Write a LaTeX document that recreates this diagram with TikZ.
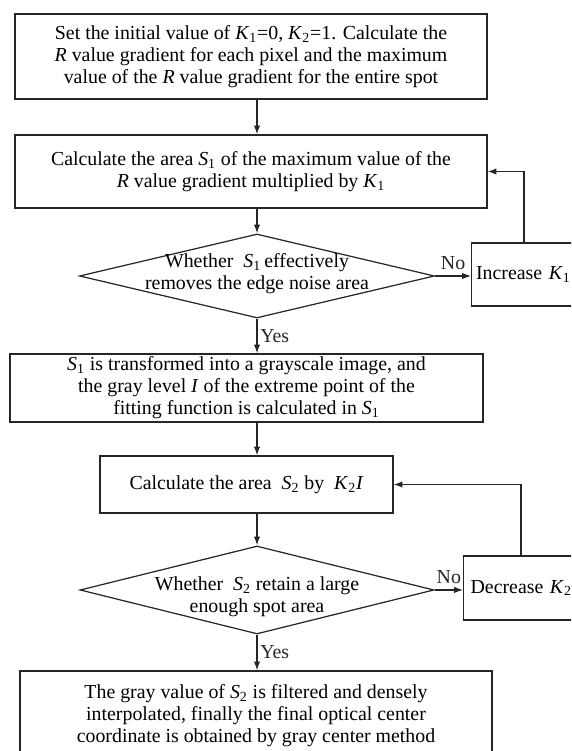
\documentclass[tikz,border=0pt]{standalone}
\usepackage{fontspec}
\setmainfont{Liberation Serif}
\usetikzlibrary{arrows.meta,calc,positioning,shapes.geometric}
\newcommand{\iv}[2]{\textit{#1}\textsubscript{#2}}

\begin{document}
\begin{tikzpicture}[x=1cm,y=1cm,>={Latex[length=5pt,width=3.6pt]},
  font=\fontsize{11.3}{12.6}\selectfont,
  flow/.style={->,line width=.7pt,black!85},
  blk/.style={draw=black!85,line width=.7pt,align=center,inner sep=0pt},
  cond/.style={draw=black!85,line width=.7pt,diamond,inner sep=0pt},
  ann/.style={align=center,inner sep=1.5pt}]
\useasboundingbox (0,0) rectangle (11.42,15.02);
\clip (0,0) rectangle (11.42,15.02);
\node[blk,minimum width=9.44cm,minimum height=1.70cm] (init) at (5.02,13.89)
 {Set the initial value of \iv{K}{1}=0, \iv{K}{2}=1. Calculate the\\
 \textit{R} value gradient for each pixel and the maximum\\
 value of the \textit{R} value gradient for the entire spot};
\node[blk,minimum width=9.44cm,minimum height=1.46cm] (areaS1) at (5.02,11.59)
 {Calculate the area \iv{S}{1} of the maximum value of the\\
 \textit{R} value gradient multiplied by \iv{K}{1}};
\node[cond,minimum width=7.10cm,minimum height=1.68cm] (noise) at (5.14,9.50) {};
\node[ann] at ([yshift=.05cm]noise.center)
 {Whether\enspace\iv{S}{1}\,effectively\\ removes the edge noise area};
\node[blk,anchor=west,text width=2.4cm,align=left,inner xsep=.09cm,
  minimum height=1.26cm] (incK) at (9.42,9.53) {Increase \iv{K}{1}};
\node[blk,minimum width=9.46cm,minimum height=1.36cm] (gray) at (4.93,7.26)
 {\iv{S}{1} is transformed into a grayscale image, and\\
 the gray level \textit{I} of the extreme point of the\\
 fitting function is calculated in \iv{S}{1}};
\node[blk,minimum width=5.86cm,minimum height=1.14cm] (areaS2) at (4.93,5.33)
 {Calculate the area\enspace\iv{S}{2} by\enspace\iv{K}{2}\textit{I}};
\node[cond,minimum width=7.08cm,minimum height=1.76cm] (spot) at (5.14,3.22) {};
\node[ann] at ([yshift=-.14cm]spot.center)
 {Whether\enspace\iv{S}{2} retain a large\\ enough spot area};
\node[blk,anchor=west,text width=2.4cm,align=left,inner xsep=.14cm,
  minimum height=1.28cm] (decK) at (9.26,3.26) {Decrease \iv{K}{2}};
\node[blk,minimum width=9.44cm,minimum height=1.80cm] (final) at (5.12,0.70)
 {The gray value of \iv{S}{2} is filtered and densely\\
 interpolated, finally the final optical center\\
 coordinate is obtained by gray center method};
\draw[flow] (init.south -| noise.north)--(areaS1.north -| noise.north);
\draw[flow] (areaS1.south -| noise.north)--(noise.north);
\draw[flow] (noise.east)--node[ann,above=2pt]{No}(noise.east -| incK.west);
\draw[flow] ([xshift=1.06cm]incK.north west) |- (areaS1.east);
\draw[flow] (noise.south)--node[ann,right]{Yes}(noise.south |- gray.north);
\draw[flow] (gray.south -| spot.north)--(areaS2.north -| spot.north);
\draw[flow] (areaS2.south -| spot.north)--(spot.north);
\draw[flow] (spot.east)--node[ann,above=2pt]{No}(spot.east -| decK.west);
\draw[flow] ([xshift=1.16cm]decK.north west) |- (areaS2.east);
\draw[flow] (spot.south)--node[ann,right]{Yes}(spot.south |- final.north);
\end{tikzpicture}
\end{document}
